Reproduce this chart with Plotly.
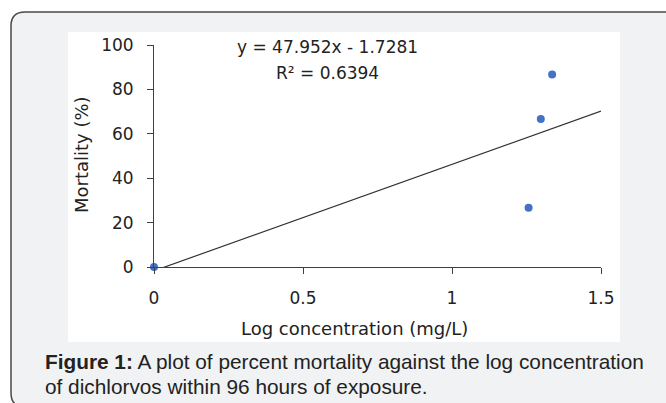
import plotly.graph_objects as go

# Data
log_conc = [0.0, 1.257, 1.298, 1.336]
mortality = [0.0, 26.67, 66.67, 86.67]
slope = 47.952
intercept = -1.7281
r_squared = 0.6394
trend_x = [0.0, 1.5]
x_ticks = [0, 0.5, 1, 1.5]
x_tick_labels = ["0", "0.5", "1", "1.5"]
y_ticks = [0, 20, 40, 60, 80, 100]

W, H = 666, 403
PL, PR, PT, PB = 154, 601, 45, 267


def X(px):
    return (px - PL) / (PR - PL)


def Y(py):
    return (PB - py) / (PB - PT)


trend_y = [slope * x + intercept for x in trend_x]

fig = go.Figure()
fig.add_trace(go.Scatter(
    x=trend_x, y=trend_y, mode="lines",
    line=dict(color="#333333", width=1.2),
    hoverinfo="skip", showlegend=False,
))
fig.add_trace(go.Scatter(
    x=log_conc, y=mortality, mode="markers",
    marker=dict(color="#4472C4", size=8),
    cliponaxis=False, showlegend=False,
))

# Background card with rounded border
L, T, R, B, r = 11, 12, 680, 407, 14
path = (f"M {X(L)},{Y(T + r)} Q {X(L)},{Y(T)} {X(L + r)},{Y(T)} "
        f"L {X(R)},{Y(T)} L {X(R)},{Y(B)} L {X(L + r)},{Y(B)} "
        f"Q {X(L)},{Y(B)} {X(L)},{Y(B - r)} Z")
shapes = [
    dict(type="path", xref="paper", yref="paper", path=path,
         fillcolor="#f0f2f4", line=dict(color="#4a4a4a", width=1.5), layer="below"),
    dict(type="rect", xref="paper", yref="paper",
         x0=X(68), x1=X(620), y0=Y(342), y1=Y(32),
         fillcolor="white", line=dict(width=0), layer="below"),
]

FONT = "DejaVu Sans, Open Sans, sans-serif"
tick_font = dict(family=FONT, size=17, color="#222222")
eq_font = dict(family=FONT, size=17, color="#222222")
title_font = dict(family=FONT, size=18, color="#222222")
cap_font = dict(family="Liberation Sans Narrow, Arial Narrow, Liberation Sans, sans-serif",
                size=20.8, color="#222222")

annotations = [
    dict(xref="paper", yref="paper", x=X(327), y=Y(47), text=f"y = {slope}x - {abs(intercept)}",
         showarrow=False, font=eq_font, xanchor="center", yanchor="middle"),
    dict(xref="paper", yref="paper", x=X(327), y=Y(73), text=f"R² = {r_squared}",
         showarrow=False, font=eq_font, xanchor="center", yanchor="middle"),
    dict(xref="paper", yref="paper", x=X(354), y=Y(328), text="Log concentration (mg/L)",
         showarrow=False, font=title_font, xanchor="center", yanchor="middle"),
    dict(xref="paper", yref="paper", x=X(81), y=Y(155), text="Mortality (%)", textangle=-90,
         showarrow=False, font=title_font, xanchor="center", yanchor="middle"),
    dict(xref="paper", yref="paper", x=X(43), y=Y(361),
         text="<b>Figure 1:</b> A plot of percent mortality against the log concentration",
         showarrow=False, font=cap_font, xanchor="left", yanchor="middle"),
    dict(xref="paper", yref="paper", x=X(43), y=Y(386),
         text="of dichlorvos within 96 hours of exposure.",
         showarrow=False, font=cap_font, xanchor="left", yanchor="middle"),
]

fig.update_layout(
    width=W, height=H,
    margin=dict(l=PL, r=W - PR, t=PT, b=H - PB, pad=0),
    paper_bgcolor="white", plot_bgcolor="rgba(0,0,0,0)",
    shapes=shapes, annotations=annotations,
    xaxis=dict(range=[0, 1.5], tickvals=x_ticks, ticktext=x_tick_labels,
               showgrid=False, zeroline=False, showline=True, linecolor="#404040", linewidth=1,
               ticks="outside", ticklen=6, tickcolor="#404040", tickfont=tick_font,
               ticklabelstandoff=10, fixedrange=True),
    yaxis=dict(range=[0, 100], tickvals=y_ticks,
               showgrid=False, zeroline=False, showline=True, linecolor="#404040", linewidth=1,
               ticks="outside", ticklen=6, tickcolor="#404040", tickfont=tick_font,
               ticklabelstandoff=10, fixedrange=True),
)

fig.write_html("out.html", config={"displayModeBar": False},
               post_script="document.body.style.margin='0';document.body.style.overflow='hidden';")
